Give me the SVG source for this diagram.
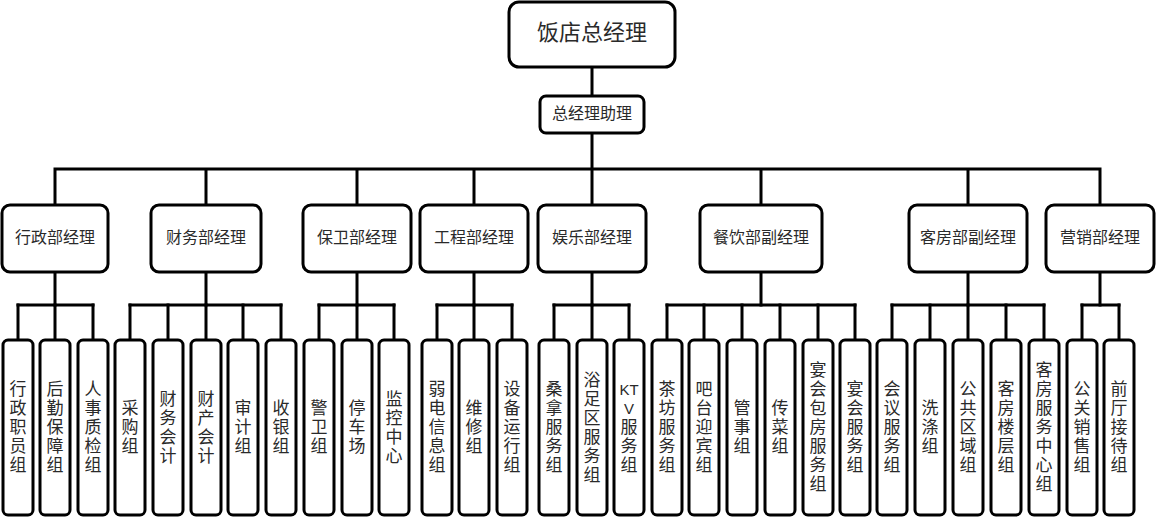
<svg xmlns="http://www.w3.org/2000/svg" width="1156" height="517" viewBox="0 0 1156 517">
<style>
.box{fill:#fff;stroke:#000;stroke-width:3}
.ln{stroke:#000;stroke-width:3;fill:none;stroke-linecap:square}
text{font-family:"Noto Sans CJK SC","Noto Sans",sans-serif;fill:#2a2a2a;text-anchor:middle}
.t22{font-size:22px}
.t16{font-size:16px}
.lf{font-size:17px;writing-mode:vertical-rl;letter-spacing:2px}
.lat{font-family:"Liberation Sans",Arial,sans-serif;font-size:15px}
</style>
<rect width="1156" height="517" fill="#fff"/>
<g id="connectors" class="ln">
<path d="M592 67V96M592 133V205M55 169H1100M55 169V205M206 169V205M357 169V205M474 169V205M761 169V205M968 169V205M1100 169V205"/>
<path d="M55 272V305M206 272V305M357 272V305M474 272V305M592 272V305M761 272V305M968 272V305M1100 272V305"/>
<path d="M18 305H93M130 305H281M319 305H394M437 305H512M554 305H629M667 305H855M892 305H1044M1082 305H1119"/>
<path d="M18 305V340M55 305V340M93 305V340M130 305V340M168 305V340M206 305V340M243 305V340M281 305V340M319 305V340M357 305V340M394 305V340M437 305V340M474 305V340M512 305V340M554 305V340M592 305V340M629 305V340M667 305V340M704 305V340M742 305V340M780 305V340M818 305V340M855 305V340M892 305V340M930 305V340M968 305V340M1006 305V340M1044 305V340M1082 305V340M1119 305V340"/>
</g>
<g id="n-top"><rect class="box" x="509" y="2" width="166" height="65" rx="10"/><text class="t22" x="592" y="40">饭店总经理</text></g>
<g id="n-assist"><rect class="box" x="540" y="96" width="104" height="37" rx="6"/><text class="t16" x="592" y="119">总经理助理</text></g>
<g id="n-xz"><rect class="box" x="2" y="205" width="106" height="67" rx="8"/><text class="t16" x="55" y="243">行政部经理</text></g>
<g id="n-cw"><rect class="box" x="151" y="205" width="110" height="67" rx="8"/><text class="t16" x="206" y="243">财务部经理</text></g>
<g id="n-bw"><rect class="box" x="303" y="205" width="108" height="67" rx="8"/><text class="t16" x="357" y="243">保卫部经理</text></g>
<g id="n-gc"><rect class="box" x="420" y="205" width="108" height="67" rx="8"/><text class="t16" x="474" y="243">工程部经理</text></g>
<g id="n-yl"><rect class="box" x="538" y="205" width="108" height="67" rx="8"/><text class="t16" x="592" y="243">娱乐部经理</text></g>
<g id="n-cy"><rect class="box" x="700" y="205" width="122" height="67" rx="8"/><text class="t16" x="761" y="243">餐饮部副经理</text></g>
<g id="n-kf"><rect class="box" x="909" y="205" width="118" height="67" rx="8"/><text class="t16" x="968" y="243">客房部副经理</text></g>
<g id="n-yx"><rect class="box" x="1046" y="205" width="108" height="67" rx="8"/><text class="t16" x="1100" y="243">营销部经理</text></g>

<g id="l1"><rect class="box" x="3" y="340" width="30" height="175" rx="5"/><text class="lf" x="18" y="428">行政职员组</text></g>
<g id="l2"><rect class="box" x="40" y="340" width="30" height="175" rx="5"/><text class="lf" x="55" y="428">后勤保障组</text></g>
<g id="l3"><rect class="box" x="78" y="340" width="30" height="175" rx="5"/><text class="lf" x="93" y="428">人事质检组</text></g>
<g id="l4"><rect class="box" x="115" y="340" width="30" height="175" rx="5"/><text class="lf" x="130" y="428">采购组</text></g>
<g id="l5"><rect class="box" x="153" y="340" width="30" height="175" rx="5"/><text class="lf" x="168" y="428">财务会计</text></g>
<g id="l6"><rect class="box" x="191" y="340" width="30" height="175" rx="5"/><text class="lf" x="206" y="428">财产会计</text></g>
<g id="l7"><rect class="box" x="228" y="340" width="30" height="175" rx="5"/><text class="lf" x="243" y="428">审计组</text></g>
<g id="l8"><rect class="box" x="266" y="340" width="30" height="175" rx="5"/><text class="lf" x="281" y="428">收银组</text></g>
<g id="l9"><rect class="box" x="304" y="340" width="30" height="175" rx="5"/><text class="lf" x="319" y="428">警卫组</text></g>
<g id="l10"><rect class="box" x="342" y="340" width="30" height="175" rx="5"/><text class="lf" x="357" y="428">停车场</text></g>
<g id="l11"><rect class="box" x="379" y="340" width="30" height="175" rx="5"/><text class="lf" x="394" y="428">监控中心</text></g>
<g id="l12"><rect class="box" x="422" y="340" width="30" height="175" rx="5"/><text class="lf" x="437" y="428">弱电信息组</text></g>
<g id="l13"><rect class="box" x="459" y="340" width="30" height="175" rx="5"/><text class="lf" x="474" y="428">维修组</text></g>
<g id="l14"><rect class="box" x="497" y="340" width="30" height="175" rx="5"/><text class="lf" x="512" y="428">设备运行组</text></g>
<g id="l15"><rect class="box" x="539" y="340" width="30" height="175" rx="5"/><text class="lf" x="554" y="428">桑拿服务组</text></g>
<g id="l16"><rect class="box" x="577" y="340" width="30" height="175" rx="5"/><text class="lf" x="592" y="428">浴足区服务组</text></g>
<g id="l17"><rect class="box" x="614" y="340" width="30" height="175" rx="5"/><text class="lat" x="629" y="395">KT</text><text class="lat" x="629" y="414">V</text><text class="lf" x="629" y="447">服务组</text></g>
<g id="l18"><rect class="box" x="652" y="340" width="30" height="175" rx="5"/><text class="lf" x="667" y="428">茶坊服务组</text></g>
<g id="l19"><rect class="box" x="689" y="340" width="30" height="175" rx="5"/><text class="lf" x="704" y="428">吧台迎宾组</text></g>
<g id="l20"><rect class="box" x="727" y="340" width="30" height="175" rx="5"/><text class="lf" x="742" y="428">管事组</text></g>
<g id="l21"><rect class="box" x="765" y="340" width="30" height="175" rx="5"/><text class="lf" x="780" y="428">传菜组</text></g>
<g id="l22"><rect class="box" x="803" y="340" width="30" height="175" rx="5"/><text class="lf" x="818" y="428">宴会包房服务组</text></g>
<g id="l23"><rect class="box" x="840" y="340" width="30" height="175" rx="5"/><text class="lf" x="855" y="428">宴会服务组</text></g>
<g id="l24"><rect class="box" x="877" y="340" width="30" height="175" rx="5"/><text class="lf" x="892" y="428">会议服务组</text></g>
<g id="l25"><rect class="box" x="915" y="340" width="30" height="175" rx="5"/><text class="lf" x="930" y="428">洗涤组</text></g>
<g id="l26"><rect class="box" x="953" y="340" width="30" height="175" rx="5"/><text class="lf" x="968" y="428">公共区域组</text></g>
<g id="l27"><rect class="box" x="991" y="340" width="30" height="175" rx="5"/><text class="lf" x="1006" y="428">客房楼层组</text></g>
<g id="l28"><rect class="box" x="1029" y="340" width="30" height="175" rx="5"/><text class="lf" x="1044" y="428">客房服务中心组</text></g>
<g id="l29"><rect class="box" x="1067" y="340" width="30" height="175" rx="5"/><text class="lf" x="1082" y="428">公关销售组</text></g>
<g id="l30"><rect class="box" x="1104" y="340" width="30" height="175" rx="5"/><text class="lf" x="1119" y="428">前厅接待组</text></g>
</svg>
